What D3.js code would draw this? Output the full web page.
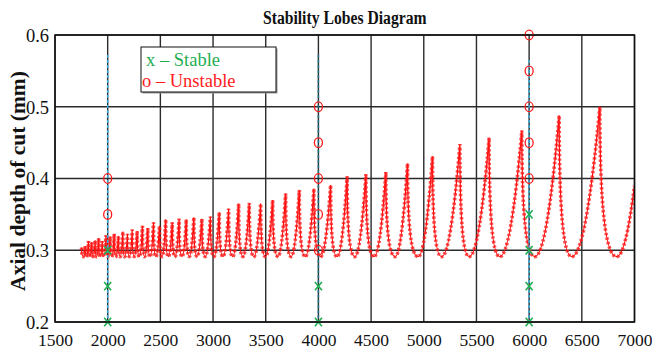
<!DOCTYPE html>
<html>
<head>
<meta charset="utf-8">
<script src="https://cdn.jsdelivr.net/npm/d3@7"></script>
<style>
  html, body { margin: 0; padding: 0; background: #fff; }
  svg { display: block; }
  svg text { font-family: "Liberation Serif", "Times New Roman", Times, "DejaVu Serif", serif !important; }
</style>
</head>
<body>
<svg id="chart" width="652" height="354"></svg>
<script>
// ---------------- DATA ----------------
const rpmTicks = [1500, 2000, 2500, 3000, 3500, 4000, 4500, 5000, 5500, 6000, 6500, 7000];
const depthTicks = [0.2, 0.3, 0.4, 0.5, 0.6];
const depthTickLabels = ["0.2", "0.3", "0.4", "0.5", "0.6"];

// lobe minima (spindle speed, rpm) and their depth (mm)
const troughRpm = [1770, 1800, 1831, 1862, 1895, 1929, 1964, 2001, 2039, 2078,
  2119, 2162, 2206, 2252, 2301, 2351, 2403, 2458, 2516, 2576,
  2639, 2706, 2775, 2849, 2927, 3009, 3095, 3187, 3284, 3388,
  3498, 3616, 3741, 3876, 4021, 4177, 4346, 4529, 4729, 4947,
  5169, 5431, 5722, 6054, 6405, 6832];
const troughDepth = [0.291, 0.291, 0.291, 0.291, 0.291, 0.291, 0.291, 0.291, 0.291, 0.291,
  0.291, 0.291, 0.291, 0.291, 0.291, 0.291, 0.291, 0.291, 0.291, 0.291,
  0.291, 0.291, 0.291, 0.291, 0.291, 0.291, 0.291, 0.291, 0.291, 0.291,
  0.291, 0.291, 0.291, 0.291, 0.291, 0.291, 0.291, 0.291, 0.291, 0.291,
  0.291, 0.291, 0.291, 0.291, 0.291, 0.291];
// cusps between neighbouring lobes
const cuspRpm = [1787, 1818, 1849, 1881, 1915, 1949, 1985, 2023, 2062, 2102,
  2144, 2188, 2233, 2280, 2330, 2381, 2435, 2492, 2551, 2613,
  2678, 2746, 2818, 2894, 2975, 3059, 3148, 3243, 3344, 3452,
  3566, 3689, 3819, 3957, 4116, 4273, 4451, 4640, 4846, 5083,
  5343, 5620, 5931, 6285, 6671];
const cuspDepth = [0.306, 0.313, 0.311, 0.314, 0.317, 0.313, 0.321, 0.319, 0.323, 0.320,
  0.326, 0.323, 0.329, 0.327, 0.334, 0.331, 0.339, 0.334, 0.343, 0.339,
  0.344, 0.343, 0.346, 0.344, 0.347, 0.353, 0.358, 0.365, 0.366, 0.365,
  0.370, 0.379, 0.384, 0.386, 0.391, 0.403, 0.406, 0.409, 0.421, 0.431,
  0.448, 0.457, 0.467, 0.488, 0.500];
const lobeStart = [1752, 0.304];
const lobeEnd = [7000, 0.390];

// cutting tests
const testRpm = [2000, 4000, 6000];
const stableDepth = [[0.20, 0.25, 0.30], [0.20, 0.25], [0.20, 0.25, 0.30, 0.35]];
const unstableDepth = [[0.35, 0.40], [0.30, 0.35, 0.40, 0.45, 0.50], [0.40, 0.45, 0.50, 0.55, 0.60]];
const testLineTop = [0.572, 0.572, 0.565];

const legendLabels = ["x \u2013 Stable", "o \u2013 Unstable"];
const titleText = "Stability Lobes Diagram";
const yLabelText = "Axial depth of cut (mm)";

// ---------------- CHART ----------------
const FONT = "'Liberation Serif', 'Times New Roman', Times, serif";
const svg = d3.select("#chart").attr("font-family", FONT);
const L = 55, R = 634.5, T = 35, B = 322;
const x = d3.scaleLinear().domain([1500, 7000]).range([L, R]);
const y = d3.scaleLinear().domain([0.2, 0.6]).range([B, T]);

svg.append("rect").attr("x", 0).attr("y", 0).attr("width", 652).attr("height", 354).attr("fill", "#fff");

// grid
const grid = svg.append("g");
grid.selectAll("line.vx").data(rpmTicks).join("line")
  .attr("x1", d => x(d)).attr("x2", d => x(d)).attr("y1", T).attr("y2", B)
  .attr("stroke", "#2b2b2b").attr("stroke-width", 1.4);
grid.selectAll("line.hy").data(depthTicks).join("line")
  .attr("x1", L).attr("x2", R).attr("y1", d => y(d)).attr("y2", d => y(d))
  .attr("stroke", "#2b2b2b").attr("stroke-width", 1.4);

// axes (labels only; frame drawn separately)
const xAxis = d3.axisBottom(x).tickValues(rpmTicks).tickSize(0).tickPadding(0).tickFormat(d3.format("d"));
const gx = svg.append("g").attr("transform", `translate(0,${B})`).call(xAxis)
  .attr("font-family", FONT).attr("font-size", 17.5);
gx.select(".domain").remove();
gx.selectAll("text").attr("dy", null).attr("y", 24).attr("fill", "#111");

const yAxis = d3.axisLeft(y).tickValues(depthTicks).tickSize(0).tickPadding(0)
  .tickFormat((d, i) => depthTickLabels[i]);
const gy = svg.append("g").attr("transform", `translate(${L},0)`).call(yAxis)
  .attr("font-family", FONT).attr("font-size", 18.5);
gy.select(".domain").remove();
gy.selectAll("text").attr("x", -6).attr("dy", "0.35em").attr("fill", "#111");

// clip
svg.append("clipPath").attr("id", "plotclip").append("rect")
  .attr("x", L).attr("y", T).attr("width", R - L).attr("height", B - T);

// lobes path built from the data through the scales
function lobePath() {
  const p = d3.path();
  p.moveTo(x(lobeStart[0]), y(lobeStart[1]));
  let prevX = x(lobeStart[0]);
  for (let i = 0; i < troughRpm.length; i++) {
    const tx = x(troughRpm[i]), ty = y(troughDepth[i]);
    p.quadraticCurveTo(prevX, ty, tx, ty);
    const nx = i < cuspRpm.length ? x(cuspRpm[i]) : x(lobeEnd[0]);
    const ny = i < cuspRpm.length ? y(cuspDepth[i]) : y(lobeEnd[1]);
    p.quadraticCurveTo((tx + nx) / 2, ty, nx, ny);
    prevX = nx;
  }
  return p.toString();
}
const lobesG = svg.append("g").attr("clip-path", "url(#plotclip)");
const dPath = lobePath();
lobesG.append("path").attr("d", dPath).attr("fill", "none")
  .attr("stroke", "#ff0000").attr("stroke-width", 1.2);
lobesG.append("path").attr("d", dPath).attr("fill", "none")
  .attr("stroke", "#ff1a1a").attr("stroke-opacity", 0.75).attr("stroke-width", 3.6)
  .attr("stroke-dasharray", "2.4 2.2");

// test lines (dashed)
svg.append("g").selectAll("line").data(testRpm).join("line")
  .attr("x1", d => x(d)).attr("x2", d => x(d))
  .attr("y1", (d, i) => y(testLineTop[i])).attr("y2", B)
  .attr("stroke", (d, i) => i === 1 ? "#1f6f86" : "#33a9dc")
  .attr("stroke-width", 1.5).attr("stroke-dasharray", "3 2");

// unstable markers (o)
const unstablePts = testRpm.flatMap((r, i) => unstableDepth[i].map(v => [r, v]));
svg.append("g").selectAll("ellipse").data(unstablePts).join("ellipse")
  .attr("cx", d => x(d[0])).attr("cy", d => y(d[1]))
  .attr("rx", 4).attr("ry", 4.8)
  .attr("fill", "none").attr("stroke", "#ff1a1a").attr("stroke-width", 1.3);

// stable markers (x)
const stablePts = testRpm.flatMap((r, i) => stableDepth[i].map(v => [r, v]));
const sx = svg.append("g").selectAll("g").data(stablePts).join("g")
  .attr("transform", d => `translate(${x(d[0])},${y(d[1])})`);
sx.append("path").attr("d", "M-3.5,-4.2 L3.5,4.2 M3.5,-4.2 L-3.5,4.2")
  .attr("stroke", "#1fae52").attr("stroke-width", 1.6).attr("fill", "none");

// frame
svg.append("rect").attr("x", L).attr("y", T).attr("width", R - L).attr("height", B - T)
  .attr("fill", "none").attr("stroke", "#111").attr("stroke-width", 1.5);

// legend
const lg = svg.append("g");
lg.append("rect").attr("x", 142.5).attr("y", 48.5).attr("width", 135).attr("height", 45).attr("fill", "#9a9a9a");
lg.append("rect").attr("x", 141).attr("y", 47).attr("width", 135).attr("height", 45)
  .attr("fill", "#fff").attr("stroke", "#111").attr("stroke-width", 1);
lg.append("text").attr("x", 146).attr("y", 65.5).attr("fill", "#1fae52")
  .attr("font-size", 18.5).text(legendLabels[0]);
lg.append("text").attr("x", 142).attr("y", 86.5).attr("fill", "#ff1a1a")
  .attr("font-size", 18.5).text(legendLabels[1]);

// title (slightly taller glyphs, as in the reference)
svg.append("text").attr("transform", `translate(${(L + R) / 2},24) scale(0.95,1.2)`)
  .attr("text-anchor", "middle")
  .attr("font-size", 16.5).attr("font-weight", "bold").attr("fill", "#111").text(titleText);

// y label
svg.append("text").attr("transform", `translate(25,181) rotate(-90)`).attr("text-anchor", "middle")
  .attr("font-size", 21.5).attr("font-weight", "bold").attr("fill", "#111").text(yLabelText);
</script>
</body>
</html>
